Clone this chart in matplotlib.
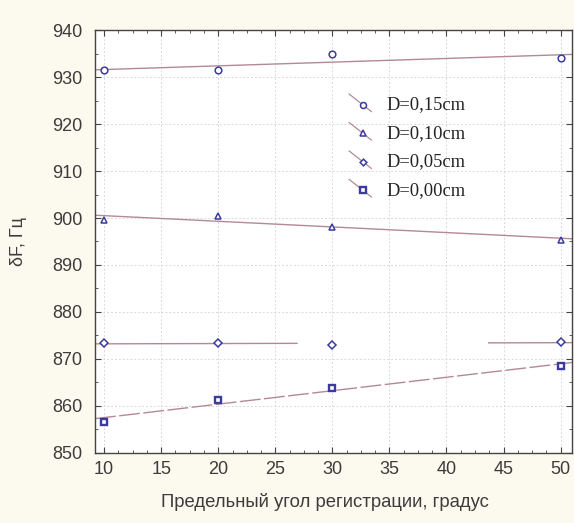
import numpy as np
import matplotlib
matplotlib.use("Agg")
import matplotlib.pyplot as plt
from matplotlib.lines import Line2D
from matplotlib.legend_handler import HandlerBase
from matplotlib.ticker import AutoMinorLocator

# Limiting registration angle, degrees
angles = [10, 20, 30, 50]

# Frequency shift dF (Hz) for each diameter D
df_015 = [931.4, 931.5, 934.9, 934.1]
df_010 = [899.6, 900.5, 898.1, 895.4]
df_005 = [873.3, 873.4, 873.0, 873.6]
df_000 = [856.5, 861.3, 863.9, 868.4]

series_labels = ["D=0,15cm", "D=0,10cm", "D=0,05cm", "D=0,00cm"]
series_values = [df_015, df_010, df_005, df_000]
series_markers = ["o", "^", "D", "s"]

x_ticks = [10, 15, 20, 25, 30, 35, 40, 45, 50]
y_ticks = [850, 860, 870, 880, 890, 900, 910, 920, 930, 940]

line_color = "#b38a94"
marker_color = "#3b3b9e"
text_color = "#3c3c3c"
bg_color = "#fcf9ee"


class DiagonalHandler(HandlerBase):
    """Legend key: short diagonal fit line with the marker in its middle."""

    def create_artists(self, legend, orig_handle, xdescent, ydescent,
                       width, height, fontsize, trans):
        x0, x1 = -xdescent, -xdescent + width
        y0, y1 = -ydescent + 1.2 * height, -ydescent - 0.15 * height
        seg = Line2D([x0, x1], [y0, y1], color=line_color, lw=0.9,
                     transform=trans)
        t = 0.62
        mk = Line2D([x0 + t * (x1 - x0)], [y0 + t * (y1 - y0)],
                    marker=orig_handle.get_marker(),
                    markersize=orig_handle.get_markersize() * 0.9,
                    markerfacecolor="white",
                    markeredgecolor=marker_color,
                    markeredgewidth=orig_handle.get_markeredgewidth(),
                    linestyle="none", transform=trans)
        return [seg, mk]


fig = plt.figure(figsize=(5.74, 5.23), dpi=100, facecolor=bg_color)
ax = fig.add_axes([0.1655, 0.134, 0.831, 0.8085])
ax.set_facecolor("white")

x = np.array(angles, dtype=float)
x_lo, x_hi = 9.2, 51.0
handles = []
for vals, mk, lab in zip(series_values, series_markers, series_labels):
    y = np.array(vals)
    coef = np.polyfit(x, y, 1)
    if lab == "D=0,00cm":
        xs = np.array([x_lo, x_hi])
        ax.plot(xs, np.polyval(coef, xs), color=line_color, lw=1.0,
                ls=(0, (15, 2.5)), zorder=2)
    elif lab == "D=0,05cm":
        # the fit line of this series is broken in its middle part
        for a, b in [(x_lo, 26.9), (43.7, x_hi)]:
            xs = np.array([a, b])
            ax.plot(xs, np.polyval(coef, xs), color=line_color, lw=1.0,
                    zorder=2)
    else:
        xs = np.array([x_lo, x_hi])
        ax.plot(xs, np.polyval(coef, xs), color=line_color, lw=1.0,
                zorder=2)
    ms = {"o": 4.8, "^": 4.6, "D": 3.8, "s": 5.0}[mk]
    mew = 1.7 if mk == "s" else 1.1
    h, = ax.plot(x, y, linestyle="none", marker=mk, markersize=ms,
                 markerfacecolor="white", markeredgecolor=marker_color,
                 markeredgewidth=mew, zorder=3, label=lab)
    handles.append(h)

ax.set_xlim(x_lo, x_hi)
ax.set_ylim(850, 940)
ax.set_xticks(x_ticks)
ax.set_yticks(y_ticks)
ax.xaxis.set_minor_locator(AutoMinorLocator(4))
ax.yaxis.set_minor_locator(AutoMinorLocator(2))
ax.grid(True, which="major", color="#d8d8e0", lw=0.7, ls=(0, (2, 2)))

ax.tick_params(which="both", direction="in", top=True, right=True,
               colors="#444444", labelcolor=text_color)
ax.tick_params(which="major", length=4, labelsize=13)
ax.tick_params(axis="x", which="major", pad=6)
ax.tick_params(axis="y", which="major", pad=9)
ax.tick_params(which="minor", length=2)
for lbl in ax.get_xticklabels() + ax.get_yticklabels():
    lbl.set_fontfamily("Liberation Sans")
for sp in ax.spines.values():
    sp.set_color("#444444")
    sp.set_linewidth(1.0)

ax.set_xlabel("Предельный угол регистрации, градус", fontsize=13.3,
              family="Liberation Sans", color=text_color)
ax.xaxis.set_label_coords(0.482, -0.095)
ax.set_ylabel("δF, Гц", fontsize=13, family="Liberation Sans",
              color=text_color, labelpad=18)

leg = ax.legend(handles=handles, handler_map={Line2D: DiagonalHandler()},
                loc="upper left", bbox_to_anchor=(0.498, 0.882),
                frameon=False, handlelength=1.2, handletextpad=0.8,
                labelspacing=0.62,
                prop={"family": "Liberation Serif", "size": 13.3})
for t in leg.get_texts():
    t.set_color("#222222")

fig.savefig("out.png", dpi=100, facecolor=bg_color)
